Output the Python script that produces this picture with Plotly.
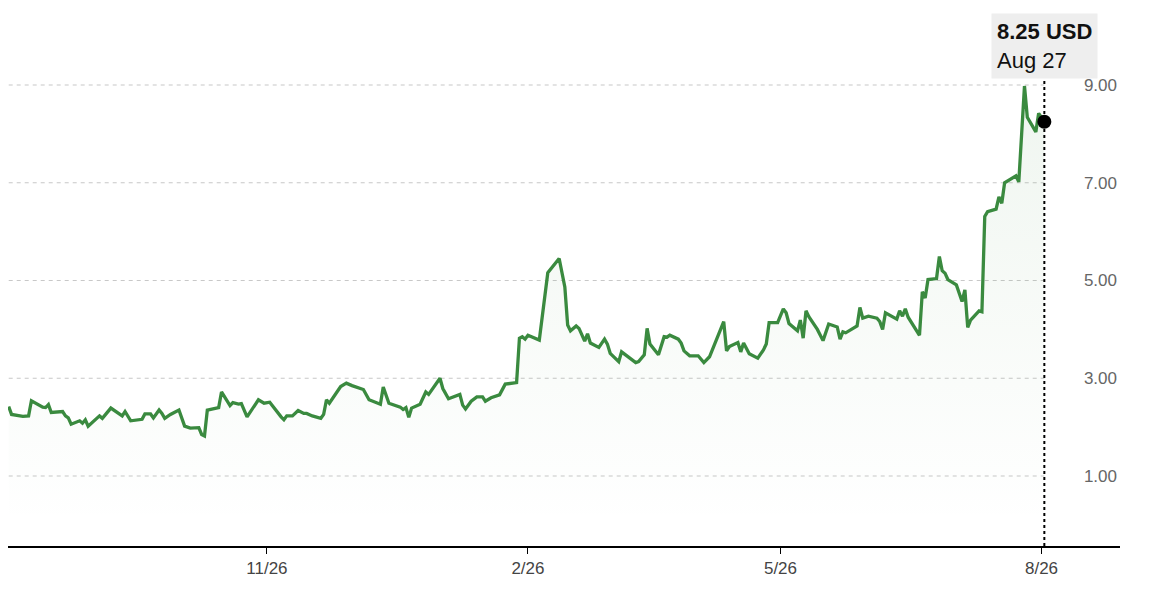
import plotly.graph_objects as go

# daily closes
dates = [
    "2024-08-27", "2024-08-28", "2024-09-01", "2024-09-03", "2024-09-04",
    "2024-09-08", "2024-09-09", "2024-09-10", "2024-09-11", "2024-09-15",
    "2024-09-16", "2024-09-17", "2024-09-18", "2024-09-21", "2024-09-22",
    "2024-09-23", "2024-09-24", "2024-09-26", "2024-09-28", "2024-09-29",
    "2024-10-02", "2024-10-06", "2024-10-07", "2024-10-09", "2024-10-13",
    "2024-10-14", "2024-10-16", "2024-10-17", "2024-10-19", "2024-10-20",
    "2024-10-21", "2024-10-23", "2024-10-26", "2024-10-28", "2024-10-30",
    "2024-11-02", "2024-11-03", "2024-11-04", "2024-11-05", "2024-11-09",
    "2024-11-10", "2024-11-13", "2024-11-14", "2024-11-16", "2024-11-17",
    "2024-11-19", "2024-11-23", "2024-11-25", "2024-11-27", "2024-12-01",
    "2024-12-02", "2024-12-03", "2024-12-05", "2024-12-07", "2024-12-09",
    "2024-12-10", "2024-12-12", "2024-12-15", "2024-12-16", "2024-12-17",
    "2024-12-18", "2024-12-22", "2024-12-24", "2024-12-26", "2024-12-30",
    "2025-01-01", "2025-01-05", "2025-01-06", "2025-01-08", "2025-01-12",
    "2025-01-13", "2025-01-14", "2025-01-15", "2025-01-16", "2025-01-19",
    "2025-01-21", "2025-01-22", "2025-01-26", "2025-01-27", "2025-01-29",
    "2025-02-02", "2025-02-03", "2025-02-04", "2025-02-06", "2025-02-08",
    "2025-02-10", "2025-02-11", "2025-02-13", "2025-02-16", "2025-02-18",
    "2025-02-22", "2025-02-23", "2025-02-24", "2025-02-25", "2025-02-26",
    "2025-03-02", "2025-03-03", "2025-03-04", "2025-03-05", "2025-03-09",
    "2025-03-10", "2025-03-11", "2025-03-12", "2025-03-13", "2025-03-15",
    "2025-03-16", "2025-03-18", "2025-03-19", "2025-03-20", "2025-03-23",
    "2025-03-25", "2025-03-26", "2025-03-27", "2025-03-30", "2025-03-31",
    "2025-04-05", "2025-04-06", "2025-04-08", "2025-04-09", "2025-04-10",
    "2025-04-13", "2025-04-15", "2025-04-16", "2025-04-17", "2025-04-20",
    "2025-04-21", "2025-04-22", "2025-04-24", "2025-04-27", "2025-04-29",
    "2025-05-01", "2025-05-06", "2025-05-07", "2025-05-08", "2025-05-11",
    "2025-05-12", "2025-05-13", "2025-05-15", "2025-05-18", "2025-05-20",
    "2025-05-21", "2025-05-22", "2025-05-25", "2025-05-27", "2025-05-28",
    "2025-05-29", "2025-06-01", "2025-06-02", "2025-06-03", "2025-06-04",
    "2025-06-05", "2025-06-08", "2025-06-10", "2025-06-12", "2025-06-15",
    "2025-06-16", "2025-06-17", "2025-06-18", "2025-06-22", "2025-06-23",
    "2025-06-24", "2025-06-26", "2025-06-29", "2025-06-30", "2025-07-01",
    "2025-07-02", "2025-07-06", "2025-07-07", "2025-07-08", "2025-07-09",
    "2025-07-10", "2025-07-12", "2025-07-14", "2025-07-15", "2025-07-16",
    "2025-07-17", "2025-07-20", "2025-07-21", "2025-07-22", "2025-07-23",
    "2025-07-24", "2025-07-27", "2025-07-29", "2025-07-30", "2025-07-31",
    "2025-08-01", "2025-08-04", "2025-08-05", "2025-08-06", "2025-08-07",
    "2025-08-10", "2025-08-11", "2025-08-12", "2025-08-13", "2025-08-17",
    "2025-08-18", "2025-08-20", "2025-08-21", "2025-08-24", "2025-08-25",
    "2025-08-26", "2025-08-27",
]

prices = [
    2.42, 2.26, 2.22, 2.23, 2.54,
    2.41, 2.40, 2.46, 2.30, 2.32,
    2.23, 2.19, 2.06, 2.13, 2.08,
    2.15, 2.02, 2.13, 2.23, 2.18,
    2.39, 2.23, 2.32, 2.13, 2.16,
    2.27, 2.27, 2.19, 2.35, 2.28,
    2.18, 2.26, 2.35, 2.02, 1.98,
    1.99, 1.85, 1.82, 2.35, 2.40,
    2.72, 2.44, 2.50, 2.47, 2.48,
    2.21, 2.56, 2.49, 2.51, 2.21,
    2.15, 2.23, 2.23, 2.34, 2.28,
    2.28, 2.23, 2.18, 2.26, 2.56,
    2.49, 2.83, 2.90, 2.85, 2.77,
    2.56, 2.47, 2.82, 2.49, 2.41,
    2.36, 2.40, 2.20, 2.39, 2.47,
    2.72, 2.67, 3.00, 2.79, 2.58,
    2.67, 2.45, 2.37, 2.53, 2.62,
    2.62, 2.53, 2.60, 2.66, 2.88,
    2.91, 3.82, 3.85, 3.80, 3.88,
    3.78, 4.26, 4.60, 5.16, 5.45,
    5.18, 4.87, 4.09, 3.97, 4.07,
    4.02, 3.76, 3.91, 3.72, 3.63,
    3.80, 3.70, 3.51, 3.34, 3.54,
    3.32, 3.34, 3.48, 4.02, 3.70,
    3.48, 3.85, 3.84, 3.88, 3.80,
    3.72, 3.56, 3.46, 3.46, 3.32,
    3.44, 4.16, 3.56, 3.65, 3.73,
    3.54, 3.72, 3.50, 3.41, 3.58,
    3.70, 4.14, 4.14, 4.42, 4.34,
    4.12, 3.97, 4.19, 3.82, 4.38,
    4.26, 4.00, 3.77, 4.11, 4.05,
    3.80, 3.95, 3.93, 4.07, 4.45,
    4.23, 4.27, 4.23, 4.16, 4.00,
    4.34, 4.21, 4.38, 4.27, 4.42,
    4.25, 4.07, 3.88, 4.77, 4.64,
    5.02, 5.04, 5.49, 5.20, 5.15,
    5.02, 4.91, 4.57, 4.81, 4.04,
    4.19, 4.38, 4.36, 6.31, 6.41,
    6.46, 6.71, 6.58, 7.00, 7.14,
    7.02, 8.98, 8.34, 8.04, 8.42,
    8.32, 8.25,
]

y_ticks = [1, 3, 5, 7, 9]
x_ticks = ["2024-11-26", "2025-02-26", "2025-05-26", "2025-08-26"]
x_labels = ["11/26", "2/26", "5/26", "8/26"]

GREEN = "#3a8a3f"

fig = go.Figure()

fig.add_trace(go.Scatter(
    x=dates, y=prices,
    mode="lines",
    line=dict(color=GREEN, width=3.3),
    fill="tozeroy",
    fillgradient=dict(
        type="vertical",
        colorscale=[[0, "rgba(58,138,63,0)"], [1, "rgba(58,138,63,0.08)"]],
    ),
    hoverinfo="skip",
))

# current value marker
fig.add_trace(go.Scatter(
    x=[dates[-1]], y=[prices[-1]],
    mode="markers",
    marker=dict(color="black", size=14),
    hoverinfo="skip",
))

# dashed gridlines only across the data span
for v in y_ticks:
    fig.add_shape(type="line", xref="x", yref="y",
                  x0=dates[0], x1=dates[-1], y0=v, y1=v,
                  line=dict(color="#c8c8c8", width=1.2, dash="4px,4px"),
                  layer="below")

# dotted crosshair down to the axis
fig.add_shape(type="line", xref="x", yref="paper",
              x0=dates[-1], x1=dates[-1], y0=0, y1=0.885,
              line=dict(color="black", width=2, dash="3px,3px"))

fig.add_annotation(
    x=dates[-1], xref="x", y=9.80, yref="y",
    text="<b>%.2f USD</b><br>Aug 27" % prices[-1],
    showarrow=False, align="left",
    xanchor="center", yanchor="middle",
    font=dict(family="Liberation Sans, Arial, sans-serif", size=22, color="#111"),
    bgcolor="#eeeeee", borderpad=5,
)

# page has an 8px body margin, so the figure is sized to fit inside the window
fig.update_layout(
    width=1142, height=590,
    margin=dict(l=0, r=30, t=2, b=52),
    paper_bgcolor="white", plot_bgcolor="white",
    showlegend=False,
    font=dict(family="Liberation Sans, Arial, sans-serif"),
    xaxis=dict(
        type="date",
        range=["2024-08-26 18:00", "2025-09-22 16:00"],
        tickvals=x_ticks, ticktext=x_labels,
        ticks="outside", ticklen=6, tickcolor="black", tickwidth=1,
        showline=True, linecolor="black", linewidth=2,
        showgrid=False, zeroline=False,
        tickfont=dict(size=17, color="#444"),
        ticklabelstandoff=0,
    ),
    yaxis=dict(
        range=[-0.432, 10.535],
        side="right", ticklabelposition="inside",
        tickvals=y_ticks, ticktext=["%.2f" % v for v in y_ticks],
        ticks="", showgrid=False, zeroline=False, showline=False,
        tickfont=dict(size=17, color="#666"),
    ),
)

fig.write_html("out.html", config={"displayModeBar": False})
